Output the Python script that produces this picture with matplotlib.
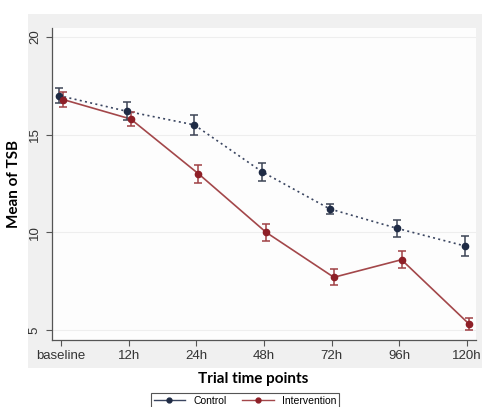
import numpy as np
import matplotlib
matplotlib.use("Agg")
from matplotlib import pyplot as plt
from matplotlib.patches import Rectangle

# Values
time_points = ['baseline', '12h', '24h', '48h', '72h', '96h', '120h']
control_mean = [17.0, 16.2, 15.5, 13.1, 11.2, 10.2, 9.3]
control_err = [0.4, 0.45, 0.5, 0.45, 0.25, 0.43, 0.5]
interv_mean = [16.8, 15.8, 13.0, 10.0, 7.7, 8.6, 5.3]
interv_err = [0.4, 0.35, 0.45, 0.45, 0.42, 0.43, 0.32]
y_ticks = [5, 10, 15, 20]

navy = '#1f2b45'
navy_line = '#3a4560'
red = '#8e1f27'
red_line = '#a3474a'

fig = plt.figure(figsize=(4.86, 4.07), dpi=100)
fig.patch.set_facecolor('white')

# Stata-like grey graph region
fig.patches.append(Rectangle((28 / 486, 1 - 368 / 407), (482 - 28) / 486, (368 - 14) / 407,
                             transform=fig.transFigure, facecolor='#f0f0f0',
                             edgecolor='none', zorder=-10))

ax = fig.add_axes([52 / 486, 1 - 340 / 407, (476 - 52) / 486, (340 - 28) / 407])
ax.set_facecolor('#fdfdfd')

x = np.arange(len(time_points))

ax.errorbar(x - 0.03, control_mean, yerr=control_err, fmt='o', color=navy,
            ecolor='#3d4455', elinewidth=1.1, capsize=2.8, capthick=1.1,
            markersize=4.5, zorder=4)
ax.plot(x - 0.03, control_mean, linestyle=(0, (1.2, 2.0)), color=navy_line,
        linewidth=1.2, zorder=3)

ax.errorbar(x + 0.03, interv_mean, yerr=interv_err, fmt='o', color=red,
            ecolor='#a04045', elinewidth=1.1, capsize=2.8, capthick=1.1,
            markersize=4.5, zorder=4)
ax.plot(x + 0.03, interv_mean, linestyle='-', color=red_line,
        linewidth=1.2, zorder=3)

ax.set_xlim(-0.133, 6.13)
ax.set_ylim(4.49, 20.46)
ax.set_xticks(x)
ax.set_xticklabels(time_points, fontfamily='Liberation Sans', fontsize=9.5, color='#333333')
ax.set_yticks(y_ticks)
ax.set_yticklabels([str(v) for v in y_ticks], fontfamily='Liberation Sans', fontsize=9.5,
                   color='#333333', rotation=90, va='center')
ax.tick_params(axis='both', length=4, width=0.8, color='#555555')
ax.tick_params(axis='y', pad=4)
ax.grid(axis='y', color='#eeeeee', linewidth=0.8)
ax.set_axisbelow(True)

for side in ['top', 'right']:
    ax.spines[side].set_visible(False)
for side in ['left', 'bottom']:
    ax.spines[side].set_color('#555555')
    ax.spines[side].set_linewidth(0.9)

ax.set_ylabel('Mean of TSB', fontfamily='Lato', fontweight='bold', fontsize=11, labelpad=6)
fig.text(253 / 486, 1 - 379 / 407, 'Trial time points', ha='center', va='center',
         fontfamily='Lato', fontweight='bold', fontsize=11)

handles = [
    plt.Line2D([], [], color=navy_line, marker='o', markersize=3.5,
               markerfacecolor=navy, markeredgecolor=navy, linewidth=1),
    plt.Line2D([], [], color=red_line, marker='o', markersize=3.5,
               markerfacecolor=red, markeredgecolor=red, linewidth=1),
]
leg = fig.legend(handles, ['Control', 'Intervention'], ncol=2, loc='upper center',
                 bbox_to_anchor=(245 / 486, 1 - 388 / 407), fancybox=False,
                 edgecolor='#555555', framealpha=1, handlelength=3,
                 prop={'family': 'Liberation Sans', 'size': 7.5},
                 borderpad=0.25, columnspacing=1.5, handletextpad=0.8)
leg.get_frame().set_linewidth(0.8)

fig.savefig('out.png', dpi=100)
